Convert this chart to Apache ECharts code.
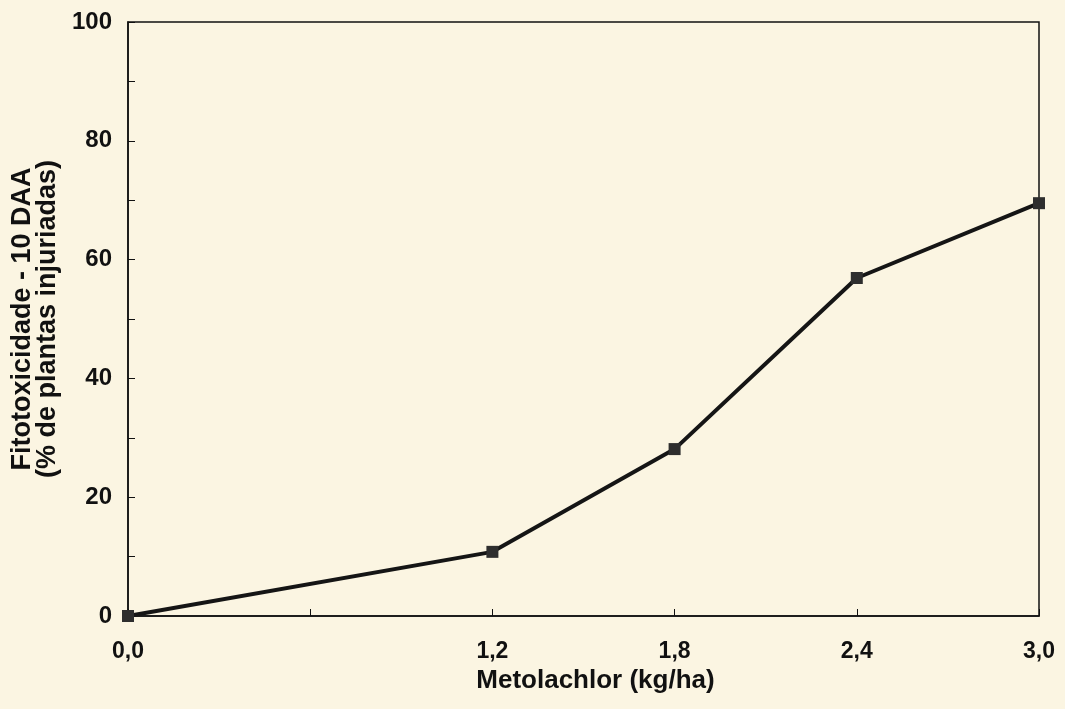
<!DOCTYPE html>
<html>
<head>
<meta charset="utf-8">
<script src="https://cdn.jsdelivr.net/npm/echarts@6/dist/echarts.min.js"></script>
<style>
  html, body { margin: 0; padding: 0; background: #fbf5e2; }
  #chart { width: 1065px; height: 709px; }
</style>
</head>
<body>
<div id="chart"></div>
<script>
// dose of metolachlor (kg/ha) and injury 10 DAA (%)
const doses = [0, 1.2, 1.8, 2.4, 3.0]
const injury = [0, 10.8, 28.1, 56.9, 69.5]
const xTickLabels = ['0,0', '1,2', '1,8', '2,4', '3,0']
const yTickLabels = [0, 20, 40, 60, 80, 100]

const font = '"Liberation Sans", Arial, sans-serif'
const chart = echarts.init(document.getElementById('chart'))

const option = {
  backgroundColor: '#fbf5e2',
  animation: false,
  grid: {
    left: 128,
    right: 26,
    top: 22,
    bottom: 93,
    outerBoundsMode: 'none',
    containLabel: false,
    show: true,
    borderColor: '#111',
    borderWidth: 1.5,
    backgroundColor: 'transparent'
  },
  xAxis: {
    type: 'value',
    min: 0,
    max: 3,
    interval: 0.6,
    name: 'Metolachlor (kg/ha)',
    nameLocation: 'middle',
    nameGap: 48,
    nameTextStyle: {
      fontFamily: font,
      fontWeight: 'bold',
      fontSize: 26,
      color: '#111',
      padding: [0, 0, 0, 24]
    },
    axisLine: { lineStyle: { color: '#111', width: 1.5 } },
    axisTick: { inside: true, length: 7, lineStyle: { color: '#111', width: 1 } },
    axisLabel: {
      margin: 24,
      fontFamily: font,
      fontWeight: 'bold',
      fontSize: 23,
      color: '#111',
      formatter: function (v) {
        const i = doses.findIndex(d => Math.abs(d - v) < 1e-6)
        return i >= 0 ? xTickLabels[i] : ''
      }
    },
    splitLine: { show: false }
  },
  yAxis: {
    type: 'value',
    min: 0,
    max: 100,
    interval: 10,
    name: 'Fitotoxicidade - 10 DAA\n(% de plantas injuriadas)',
    nameLocation: 'middle',
    nameGap: 55,
    nameTextStyle: {
      fontFamily: font,
      fontWeight: 'bold',
      fontSize: 27,
      lineHeight: 25,
      color: '#111'
    },
    axisLine: { lineStyle: { color: '#111', width: 1.5 } },
    axisTick: { inside: true, length: 7, lineStyle: { color: '#111', width: 1 } },
    axisLabel: {
      margin: 16,
      fontFamily: font,
      fontWeight: 'bold',
      fontSize: 24,
      color: '#111',
      formatter: function (v) {
        return yTickLabels.indexOf(v) >= 0 ? String(v) : ''
      }
    },
    splitLine: { show: false }
  },
  series: [
    {
      type: 'line',
      data: doses.map((d, i) => [d, injury[i]]),
      clip: false,
      symbol: 'rect',
      symbolSize: 12,
      itemStyle: { color: '#2e2e2e' },
      lineStyle: { color: '#151515', width: 4 }
    }
  ]
}

chart.setOption(option)
</script>
</body>
</html>
